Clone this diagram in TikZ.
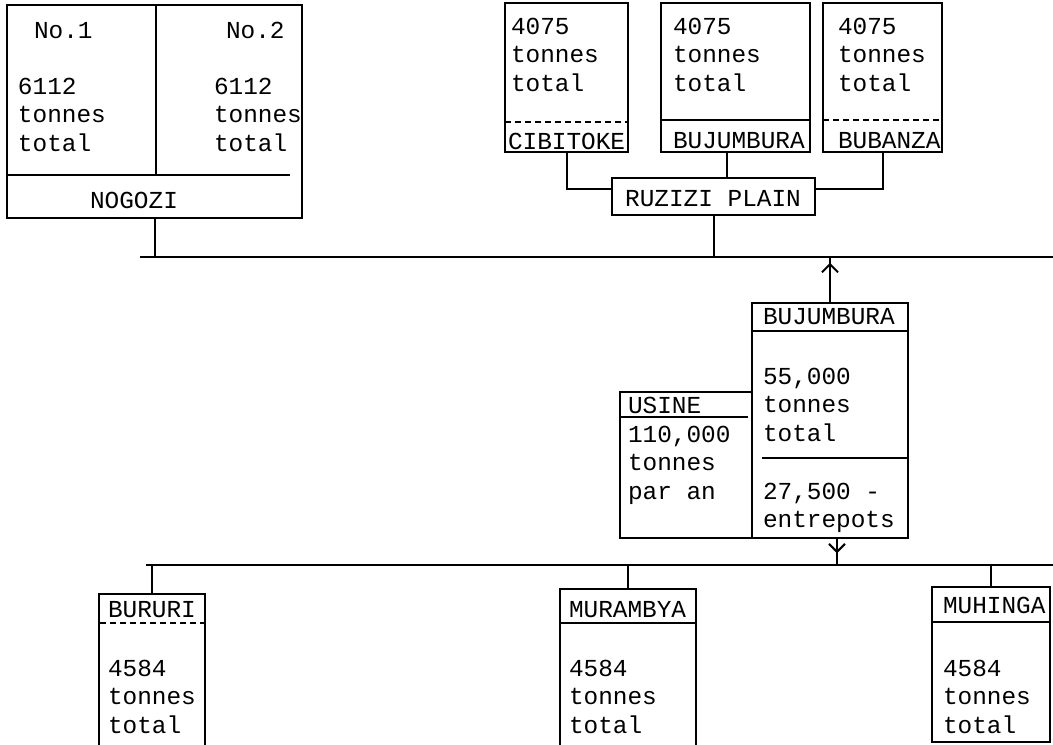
\documentclass[tikz,border=0pt]{standalone}
\usepackage{fontspec}
\setmonofont{Liberation Mono}
\usetikzlibrary{fit,calc,decorations.markings,arrows.meta}

\begin{document}
\begin{tikzpicture}[x=0.5pt, y=-0.5pt, line width=1pt,
    boite/.style={draw, rectangle, inner sep=0pt},
    cadre/.style={rectangle, inner sep=0pt},
    txt/.style={anchor=north west, inner sep=0pt, align=left, font=\ttfamily\fontsize{12.2}{14.2}\selectfont},
    etiq/.style={txt, anchor=west},
    pointille/.style={line width=0.7pt, densely dashed},
    fleche/.style={postaction={decorate}, decoration={markings, mark=at position #1 with {\arrow{Straight Barb[length=4pt,width=8pt]}}}}
]
    \useasboundingbox (0,0) rectangle (1053,744);

    % Nogozi
    \node[boite, fit={(7,5) (302,218)}] (nogozi) {};
    \draw (156,5) -- (156,175);
    \draw (7,175) -- (290,175);
    \node[txt] (no1) at (33,21) {No.1};
    \node[txt] (no2) at (225,21) {No.2};
    \node[txt] (t-no1) at (17,77) {6112\\tonnes\\total};
    \node[txt] (t-no2) at (213,77) {6112\\tonnes\\total};
    \node[etiq, anchor=center] (l-nogozi) at (134,200) {NOGOZI};

    % Plaine de la Ruzizi
    \node[boite, fit={(505,3) (628,152)}] (cibitoke) {};
    \node[boite, fit={(661,3) (810,152)}] (bujhaut) {};
    \node[boite, fit={(823,3) (942,152)}] (bubanza) {};
    \draw[pointille] (505,122) -- (628,122);
    \draw (661,120) -- (810,120);
    \draw[pointille] (823,120) -- (942,120);
    \node[txt] (t-cibitoke) at (510,17) {4075\\tonnes\\total};
    \node[txt] (t-bujhaut) at (672,17) {4075\\tonnes\\total};
    \node[txt] (t-bubanza) at (837,17) {4075\\tonnes\\total};
    \node[etiq] (l-cibitoke) at (507,141) {CIBITOKE};
    \node[etiq] (l-bujhaut) at (672,141) {BUJUMBURA};
    \node[etiq] (l-bubanza) at (837,141) {BUBANZA};
    \node[boite, fit={(612,178) (815,215)}] (ruzizi) {};
    \node[etiq, anchor=center] (l-ruzizi) at (713,199) {RUZIZI PLAIN};

    % Bujumbura et usine
    \node[boite, fit={(752,303) (908,538)}] (entrepot) {};
    \node[boite, fit={(620,392) (752,538)}] (usine) {};
    \draw (752,331) -- (908,331);
    \draw (762,458) -- (908,458);
    \draw (620,417) -- (748,417);
    \node[etiq] (l-entrepot) at (762,317) {BUJUMBURA};
    \node[txt] (t-entrepot) at (762,367) {55,000\\tonnes\\total};
    \node[txt] (t-stock) at (762,482) {27,500 -\\entrepots};
    \node[etiq] (l-usine) at (627,405) {USINE};
    \node[txt] (t-usine) at (627,425) {110,000\\tonnes\\par an};

    % Provinces du bas
    \node[cadre, fit={(100,595) (204,744)}] (bururi) {};
    \node[cadre, fit={(561,590) (695,744)}] (murambya) {};
    \node[boite, fit={(932,587) (1050,742)}] (muhinga) {};
    \draw (bururi.south west) |- (bururi.north east) -- (bururi.south east);
    \draw (murambya.south west) |- (murambya.north east) -- (murambya.south east);
    \draw[pointille] (100,623) -- (204,623);
    \draw (561,623) -- (695,623);
    \draw (932,622) -- (1050,622);
    \node[etiq] (l-bururi) at (107,610) {BURURI};
    \node[etiq] (l-murambya) at (568,610) {MURAMBYA};
    \node[etiq] (l-muhinga) at (942,605) {MUHINGA};
    \node[txt] (t-bururi) at (107,659) {4584\\tonnes\\total};
    \node[txt] (t-murambya) at (568,659) {4584\\tonnes\\total};
    \node[txt] (t-muhinga) at (942,659) {4584\\tonnes\\total};

    % Lignes de liaison
    \coordinate (haut-g) at (140,257);
    \coordinate (haut-d) at (1053,257);
    \coordinate (bas-g) at (146,565);
    \coordinate (bas-d) at (1053,565);
    \draw (haut-g) -- (haut-d);
    \draw (bas-g) -- (bas-d);
    \draw (nogozi.south) -- (nogozi.south |- haut-g);
    \draw (ruzizi.south) -- (ruzizi.south |- haut-g);
    \draw (cibitoke.south) |- ($(ruzizi.west)+(0,-8)$);
    \draw (bubanza.south) |- ($(ruzizi.east)+(0,-8)$);
    \draw ([xshift=-4.5pt]bujhaut.south) -- ([xshift=-4.5pt]bujhaut.south |- ruzizi.north);
    \draw[fleche=0.87] (entrepot.north) -- (entrepot.north |- haut-g);
    \draw[fleche=0.55] ([xshift=3.5pt]entrepot.south) -- ([xshift=3.5pt]entrepot.south |- bas-g);
    \draw (bururi.north) -- (bururi.north |- bas-g);
    \draw (murambya.north) -- (murambya.north |- bas-g);
    \draw (muhinga.north) -- (muhinga.north |- bas-g);
\end{tikzpicture}
\end{document}
